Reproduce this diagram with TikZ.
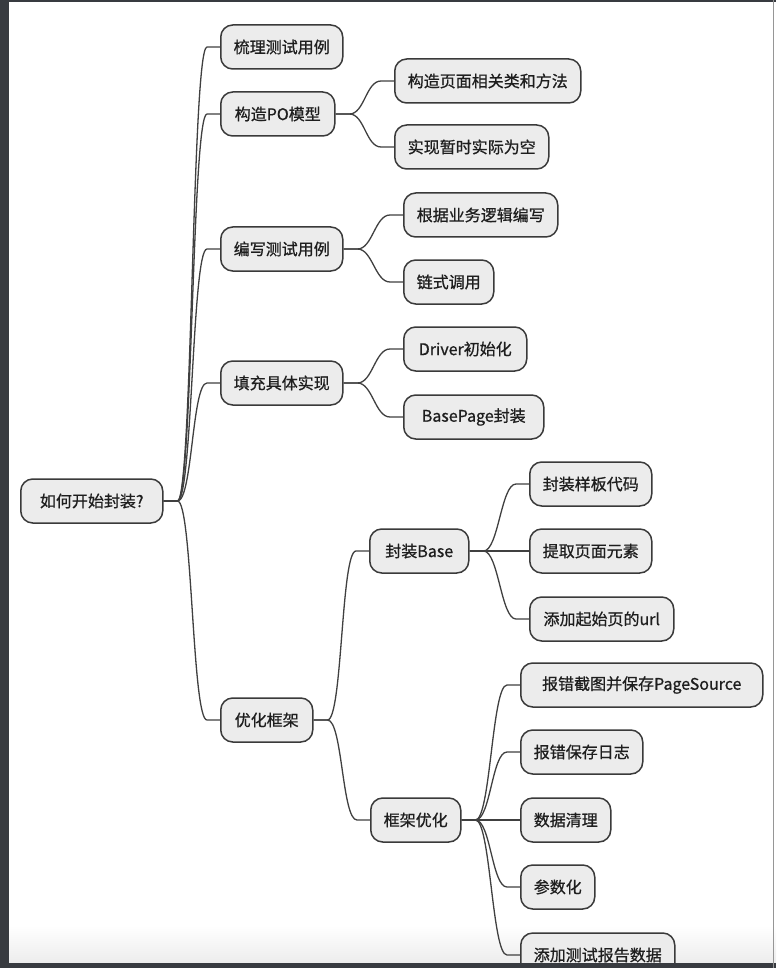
\documentclass[tikz,border=0pt]{standalone}
\usepackage{fontspec}
\setmainfont[FakeBold=0.8]{Noto Sans CJK SC}
\begin{document}
\begin{tikzpicture}[x=1pt,y=-1pt]
	\tikzstyle{every node}=[font=\fontsize{16}{19}\selectfont, text={rgb,255:red,30; green,30; blue,30}]
	\tikzstyle{topic}=[draw={rgb,255:red,58; green,58; blue,58}, fill={rgb,255:red,236; green,236; blue,236}, line width=1.5pt, rounded corners=12pt, minimum height=44pt, inner xsep=13pt, anchor=west]
	\tikzstyle{link}=[draw={rgb,255:red,64; green,64; blue,64}, line width=1.3pt]
	\useasboundingbox (0,0) rectangle (776,968);
	\fill [white] (0,0) rectangle (776,968);
	\shade [top color=white, bottom color={rgb,255:red,236; green,236; blue,236}] (0,925) rectangle (776,963);
	% root and first level
	\node [topic, minimum width=142pt] (root) at (20,501) {如何开始封装?};
	\node [topic] (sort) at (220,47) {梳理测试用例};
	\node [topic, minimum width=114pt] (po) at (220,114) {构造PO模型};
	\node [topic] (write) at (220,249) {编写测试用例};
	\node [topic] (fill) at (220,383) {填充具体实现};
	\node [topic, minimum width=92pt] (opt) at (220,720) {优化框架};
	% second level
	\node [topic] (pocls) at (394,81) {构造页面相关类和方法};
	\node [topic] (poempty) at (394,147) {实现暂时实际为空};
	\node [topic] (logic) at (403,215) {根据业务逻辑编写};
	\node [topic] (chain) at (403,282) {链式调用};
	\node [topic, minimum width=123pt] (driver) at (403,349) {Driver初始化};
	\node [topic, minimum width=140pt] (basepage) at (403,417) {BasePage封装};
	\node [topic, minimum width=99pt] (base) at (369,551) {封装Base};
	\node [topic] (frame) at (370,820) {框架优化};
	% third level
	\node [topic] (tpl) at (529,484) {封装样板代码};
	\node [topic] (elem) at (529,551) {提取页面元素};
	\node [topic, minimum width=144pt] (url) at (529,619) {添加起始页的url};
	\node [topic, minimum width=242pt] (shot) at (520,685) {报错截图并保存PageSource};
	\node [topic] (log) at (520,752) {报错保存日志};
	\node [topic] (clean) at (520,820) {数据清理};
	\node [topic] (param) at (520,887) {参数化};
	\node [topic] (report) at (520,955) {添加测试报告数据};
	% branches
	\foreach \p/\c in {root/sort, root/po, root/write, root/fill, root/opt, po/pocls, po/poempty, write/logic, write/chain, fill/driver, fill/basepage, opt/base, opt/frame, base/tpl, base/elem, base/url, frame/shot, frame/log, frame/clean, frame/param, frame/report}
		\draw [link] (\p.east) -- ++(14,0) .. controls +(15,0) and +(-15,0) .. ([xshift=-13pt]\c.west) -- (\c.west);
	% screen frame
	\fill [fill={rgb,255:red,56; green,59; blue,64}] (0,0) rectangle (9,968);
	\fill [fill={rgb,255:red,56; green,59; blue,64}] (0,0) rectangle (776,2.5);
	\fill [fill={rgb,255:red,56; green,59; blue,64}] (0,963) rectangle (776,968);
	\fill [fill={rgb,255:red,150; green,150; blue,150}] (772.5,0) rectangle (774,968);
\end{tikzpicture}
\end{document}
